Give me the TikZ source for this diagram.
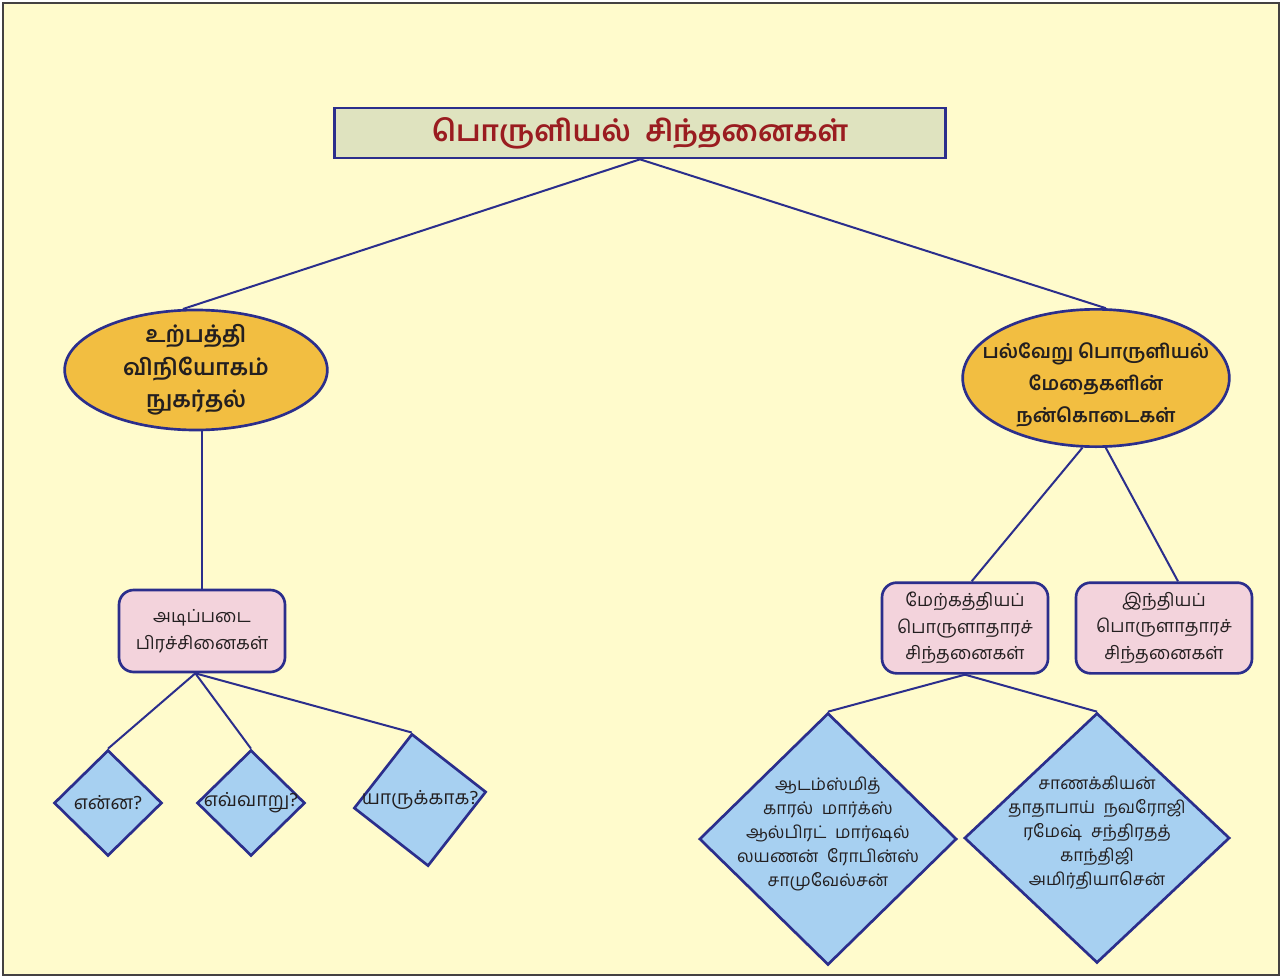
\documentclass[tikz,border=0pt]{standalone}
\usepackage{fontspec}
\setmainfont[Script=Tamil]{Hind Madurai}
\usetikzlibrary{shapes.geometric,positioning}
\definecolor{ecoline}{HTML}{2B2E8C}
\definecolor{ecoink}{HTML}{231F20}
\definecolor{ecored}{HTML}{9A1C20}
\definecolor{ecocream}{HTML}{FFFBCC}
\definecolor{ecoolive}{HTML}{DFE3BF}
\definecolor{ecoorange}{HTML}{F2BE41}
\definecolor{ecopink}{HTML}{F3D3DC}
\definecolor{ecoblue}{HTML}{A7D0F1}
\tikzset{
  edge/.style={draw=ecoline, line width=1.5pt},
  ttl/.style={draw=ecoline, line width=2pt, fill=ecoolive, minimum width=458pt, minimum height=37.5pt,
    font=\fontsize{22}{26}\selectfont\bfseries, text=ecored},
  ell/.style={ellipse, draw=ecoline, line width=2pt, fill=ecoorange, inner sep=0pt},
  etxt/.style={align=center, font=\fontsize{17}{24.5}\selectfont\bfseries, text=ecoink},
  rbx/.style={draw=ecoline, line width=2pt, fill=ecopink, rounded corners=11pt, align=center,
    font=\fontsize{13.5}{20}\selectfont, text=ecoink},
  dia/.style={diamond, draw=ecoline, line width=2pt, fill=ecoblue, inner sep=0pt, aspect=1},
  dtxt/.style={align=center, font=\fontsize{14.5}{18}\selectfont, text=ecoink},
}
\begin{document}
\begin{tikzpicture}[x=0.75pt, y=-0.75pt]
  \useasboundingbox (0,0) rectangle (1283,978);
  \draw[fill=ecocream, draw=ecoink!85, line width=1.5pt] (3,3) rectangle (1279,975);

  \node[ttl] (title) at (640,133) {பொருளியல்\enspace சிந்தனைகள்};

  \node[ell, minimum width=197pt, minimum height=90pt] (prod) at (196,370) {};
  \node[etxt] at (prod) {உற்பத்தி\\விநியோகம்\\நுகர்தல்};
  \node[ell, minimum width=200pt, minimum height=103pt] (gift) at (1096,378) {};
  \node[etxt, font=\fontsize{14.5}{24}\selectfont\bfseries, yshift=-5pt] at (gift) {பல்வேறு பொருளியல்\\மேதைகளின்\\நன்கொடைகள்};

  \node[rbx, minimum width=124.5pt, minimum height=61.5pt] (basic) at (202,631) {அடிப்படை\\பிரச்சினைகள்};
  \node[rbx, minimum width=124.5pt, minimum height=68pt] (west) at (965,628) {மேற்கத்தியப்\\பொருளாதாரச்\\சிந்தனைகள்};
  \node[rbx, minimum width=132pt, minimum height=68pt] (india) at (1164,628) {இந்தியப்\\பொருளாதாரச்\\சிந்தனைகள்};

  \node[dia, minimum width=81pt, minimum height=79.5pt] (what) at (108,803) {};
  \node[dtxt] at (what) {என்ன?};
  \node[dia, minimum width=81pt, minimum height=79.5pt] (how) at (251,803) {};
  \node[dtxt] at (how) {எவ்வாறு?};
  \node[dia, minimum width=100pt, minimum height=100pt, rotate=7] (whom) at (420,800) {};
  \node[dtxt] at (whom) {யாருக்காக?};

  \node[dia, minimum width=193pt, minimum height=189pt] (wnames) at (828,839) {};
  \node[dtxt, font=\fontsize{13}{18}\selectfont, yshift=4pt] at (wnames) {ஆடம்ஸ்மித்\\காரல்\enspace மார்க்ஸ்\\ஆல்பிரட்\enspace மார்ஷல்\\லயணன்\enspace ரோபின்ஸ்\\சாமுவேல்சன்};
  \node[dia, minimum width=199pt, minimum height=187.5pt] (inames) at (1097,838) {};
  \node[dtxt, font=\fontsize{13}{18}\selectfont, yshift=4pt] at (inames) {சாணக்கியன்\\தாதாபாய்\enspace நவரோஜி\\ரமேஷ்\enspace சந்திரதத்\\காந்திஜி\\அமிர்தியாசென்};

  \draw[edge] (title.south) -- (prod.102);
  \draw[edge] (title.south) -- (gift.82);
  \draw[edge] (basic.north) -- (basic.north |- prod.south);
  \coordinate (bfoot) at ([xshift=-5pt]basic.south);
  \draw[edge] (bfoot) -- (what.north);
  \draw[edge] (bfoot) -- (how.north);
  \draw[edge] (bfoot) -- (whom.north);
  \draw[edge] (gift.259) -- ([xshift=5pt]west.north);
  \draw[edge] (gift.278) -- ([xshift=10.5pt]india.north);
  \draw[edge] (west.south) -- (wnames.north);
  \draw[edge] (west.south) -- (inames.north);
\end{tikzpicture}
\end{document}
